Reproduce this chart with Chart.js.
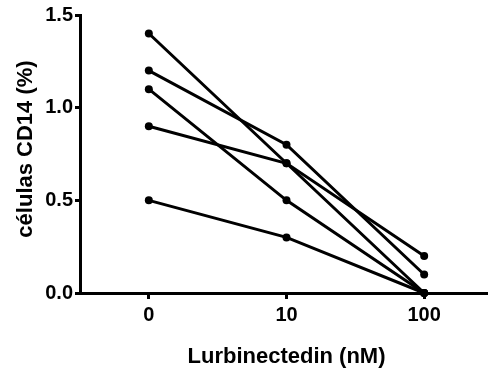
<!DOCTYPE html>
<html>
<head>
<meta charset="utf-8">
<script src="https://cdn.jsdelivr.net/npm/chart.js@4"></script>
<style>
  html, body { margin: 0; padding: 0; background: #fff; overflow: hidden; }
  #wrap { width: 488px; height: 376px; overflow: hidden; position: relative; }
  #c { position: absolute; left: 0; top: 0; }
</style>
</head>
<body>
<div id="wrap"><canvas id="c" width="497" height="376" style="width:497px;height:376px"></canvas></div>
<script>
// dose groups (nM)
var doses = ['0', '10', '100'];
// one line per sample, % CD14 cells
var s1 = [1.4, 0.7, 0.0];
var s2 = [1.2, 0.8, 0.1];
var s3 = [1.1, 0.5, 0.0];
var s4 = [0.9, 0.7, 0.2];
var s5 = [0.5, 0.3, 0.0];
var yTicks = [0, 0.5, 1.0, 1.5];
var yTitle = 'células CD14 (%)';

var FONT = 'Arial, "Liberation Sans", sans-serif';

function ds(vals) {
  return {
    data: vals,
    borderColor: '#000', backgroundColor: '#000',
    borderWidth: 3, pointRadius: 4, pointHoverRadius: 4,
    pointBackgroundColor: '#000', pointBorderWidth: 0,
    tension: 0, clip: false
  };
}

// y title drawn by hand, sits a bit above the plot centre like the original
var yTitlePlugin = {
  id: 'yTitle',
  afterDraw: function(chart) {
    var c = chart.ctx, a = chart.chartArea;
    c.save();
    c.translate(26, (a.top + a.bottom) / 2 - 5);
    c.rotate(-Math.PI / 2);
    c.fillStyle = '#000';
    c.font = 'bold 22px ' + FONT;
    c.textAlign = 'center';
    c.textBaseline = 'middle';
    c.fillText(yTitle, 0, 0);
    c.restore();
  }
};

new Chart(document.getElementById('c').getContext('2d'), {
  type: 'line',
  data: { labels: doses, datasets: [ds(s1), ds(s2), ds(s3), ds(s4), ds(s5)] },
  options: {
    responsive: false, animation: false, devicePixelRatio: 1,
    layout: { padding: { top: 15, left: 0, right: 0, bottom: 0 } },
    plugins: { legend: { display: false }, tooltip: { enabled: false } },
    scales: {
      x: {
        type: 'category', offset: true,
        grid: { drawOnChartArea: false, drawTicks: true, tickLength: 6, tickWidth: 3, tickColor: '#000', offset: false },
        border: { display: true, width: 3, color: '#000' },
        ticks: { color: '#000', padding: 4, font: { family: FONT, size: 20, weight: 'bold' } },
        title: { display: true, text: 'Lurbinectedin (nM)', color: '#000', padding: { top: 0, bottom: 6 },
                 font: { family: FONT, size: 22, weight: 'bold' } },
        afterFit: function(s) { s.height = 83; }
      },
      y: {
        min: 0, max: 1.5,
        afterBuildTicks: function(s) { s.ticks = yTicks.map(function(v) { return { value: v }; }); },
        grid: { drawOnChartArea: false, drawTicks: true, tickLength: 5, tickWidth: 3, tickColor: '#000' },
        border: { display: true, width: 3, color: '#000' },
        ticks: { color: '#000', padding: 2, font: { family: FONT, size: 20, weight: 'bold' },
                 callback: function(v) { return Number(v).toFixed(1); } },
        afterFit: function(s) { s.width = 80; }
      }
    }
  },
  plugins: [yTitlePlugin]
});
</script>
</body>
</html>
